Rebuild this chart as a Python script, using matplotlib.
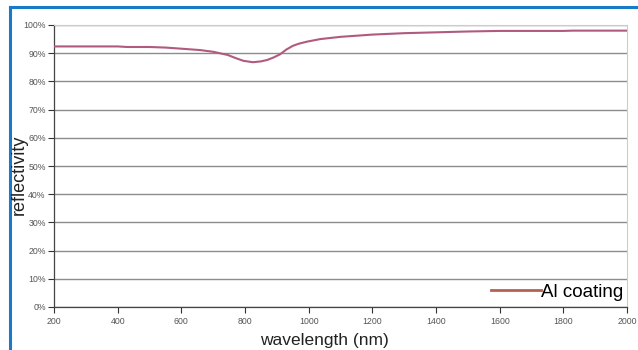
import matplotlib
matplotlib.use("Agg")
import matplotlib.pyplot as plt
from matplotlib.lines import Line2D

wavelength = [200, 300, 400, 430, 500, 550, 600, 660, 700, 745, 770, 795, 825, 850, 870, 890,
              910, 930, 950, 970, 995, 1036, 1100, 1200, 1300, 1400, 1500, 1600, 1700, 1800, 1830, 1900, 2000]
reflectivity = [92.4, 92.4, 92.4, 92.2, 92.2, 92.0, 91.6, 91.1, 90.5, 89.4, 88.3, 87.3, 86.8, 87.1, 87.6, 88.5,
                89.6, 91.3, 92.6, 93.4, 94.1, 95.0, 95.8, 96.6, 97.1, 97.4, 97.7, 97.9, 97.9, 97.9, 98.0, 98.0, 98.0]
series_label = "Al coating"
xticks = [200, 400, 600, 800, 1000, 1200, 1400, 1600, 1800, 2000]
yticks = [0, 10, 20, 30, 40, 50, 60, 70, 80, 90, 100]

plt.rcParams['font.family'] = ['Liberation Sans', 'DejaVu Sans']

fig = plt.figure(figsize=(6.38, 3.5), dpi=100)
W, H = 638, 350
ax = fig.add_axes([54 / W, 1 - 307 / H, (627 - 54) / W, (307 - 25) / H])

ax.plot(wavelength, reflectivity, color='#b05a80', lw=1.5, zorder=3)
ax.set_xlim(200, 2000)
ax.set_ylim(0, 100)
ax.set_xticks(xticks)
ax.set_yticks(yticks)
ax.set_yticklabels([f"{v}%" for v in yticks])
ax.tick_params(axis='both', labelsize=6.3, colors='#333333', labelcolor='#555555', length=4, width=0.8)
ax.tick_params(axis='x', pad=3)
ax.tick_params(axis='y', pad=2)
ax.grid(axis='y', color='#8c8c8c', lw=1.0)
ax.set_axisbelow(True)
for s in ['top', 'right']:
    ax.spines[s].set_color('#cccccc')
for s in ['left', 'bottom']:
    ax.spines[s].set_color('#444444')
    ax.spines[s].set_linewidth(0.9)

handle = Line2D([0], [0], color='#b86050', lw=2)
leg = fig.legend([handle], [series_label], loc='lower right', frameon=False, fontsize=13.5,
                 handlelength=2.65, handletextpad=0.0, borderaxespad=0.0, borderpad=0.0,
                 bbox_to_anchor=(623 / W, 1 - 301 / H))

fig.text(324 / W, 1 - 340 / H, "wavelength (nm)", ha='center', va='center', fontsize=12.5, color='#222222')
fig.text(19 / W, 1 - 175 / H, "reflectivity", ha='center', va='center', rotation=90, fontsize=13, color='#222222')

# blue frame
fig.add_artist(Line2D([10 / W, 1.0], [1 - 7 / H, 1 - 7 / H], transform=fig.transFigure, color='#1a7ac8', lw=2.2))
fig.add_artist(Line2D([10 / W, 10 / W], [0, 1 - 7 / H], transform=fig.transFigure, color='#1a7ac8', lw=2.2))

fig.savefig("out.png", dpi=100)
